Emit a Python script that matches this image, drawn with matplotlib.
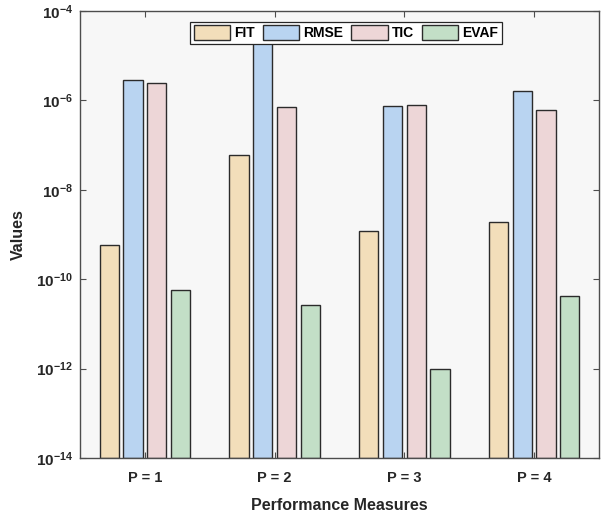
import numpy as np
import matplotlib
matplotlib.use("Agg")
import matplotlib.pyplot as plt
from matplotlib.ticker import FixedLocator, FuncFormatter, NullLocator

plt.rcParams['font.family'] = ['Liberation Sans', 'DejaVu Sans']
plt.rcParams['font.weight'] = 'bold'
plt.rcParams['mathtext.fontset'] = 'custom'
plt.rcParams['mathtext.rm'] = 'Liberation Sans:bold'
plt.rcParams['mathtext.bf'] = 'Liberation Sans:bold'

groups = ['P = 1', 'P = 2', 'P = 3', 'P = 4']
measures = ['FIT', 'RMSE', 'TIC', 'EVAF']
fit = [5.8e-10, 6.1e-8, 1.22e-9, 1.95e-9]
rmse = [2.9e-6, 3.0e-5, 7.4e-7, 1.63e-6]
tic = [2.5e-6, 7.2e-7, 8.0e-7, 6.0e-7]
evaf = [5.6e-11, 2.6e-11, 9.6e-13, 4.2e-11]
colors = ['#F2DEBA', '#B9D4F1', '#EDD6D7', '#C3DFC7']

series = [fit, rmse, tic, evaf]
x = np.arange(1, len(groups) + 1)
pitch = 0.183
width = 0.148

fig = plt.figure(figsize=(6.09, 5.19), dpi=100)
ax = fig.add_axes([0.1314, 0.1175, 0.8522, 0.8613])
ax.set_facecolor('#F7F7F7')

for i, (vals, name, c) in enumerate(zip(series, measures, colors)):
    off = (i - 1.5) * pitch
    ax.bar(x + off, vals, width, bottom=1e-14, color=c, edgecolor='#2b2b2b',
           linewidth=1.0, label=name, zorder=2)

ax.set_yscale('log')
ax.set_ylim(1e-14, 1e-4)
ax.set_xlim(0.5, 4.5)
ax.yaxis.set_major_locator(FixedLocator([10.0**k for k in range(-14, -3, 2)]))
ax.yaxis.set_minor_locator(NullLocator())
ax.yaxis.set_major_formatter(FuncFormatter(
    lambda v, p: r'$\mathbf{10^{%d}}$' % round(np.log10(v))))
ax.set_xticks(x)
ax.set_xticklabels(groups)

ax.tick_params(direction='in', top=True, right=True, length=4, width=0.8,
               color='#4d4d4d', labelcolor='#262626')
ax.tick_params(axis='x', labelsize=10.5, pad=9)
ax.tick_params(axis='y', labelsize=11, pad=5)
for s in ax.spines.values():
    s.set_color('#4d4d4d')
    s.set_linewidth(1.0)

ax.set_xlabel('Performance Measures', fontsize=11.5, fontweight='bold',
              color='#262626', labelpad=10)
ax.set_ylabel('Values', fontsize=11.5, fontweight='bold', color='#262626',
              labelpad=7)

leg = ax.legend(ncol=4, loc='upper center', bbox_to_anchor=(0.5125, 0.976),
                fontsize=10, handlelength=2.6, handleheight=1.25,
                handletextpad=0.3, columnspacing=0.6, borderpad=0.25,
                borderaxespad=0.0, fancybox=False, framealpha=1.0)
leg.get_frame().set_edgecolor('#262626')
leg.get_frame().set_linewidth(0.9)
leg.set_zorder(5)

fig.savefig('out.png', dpi=100)
